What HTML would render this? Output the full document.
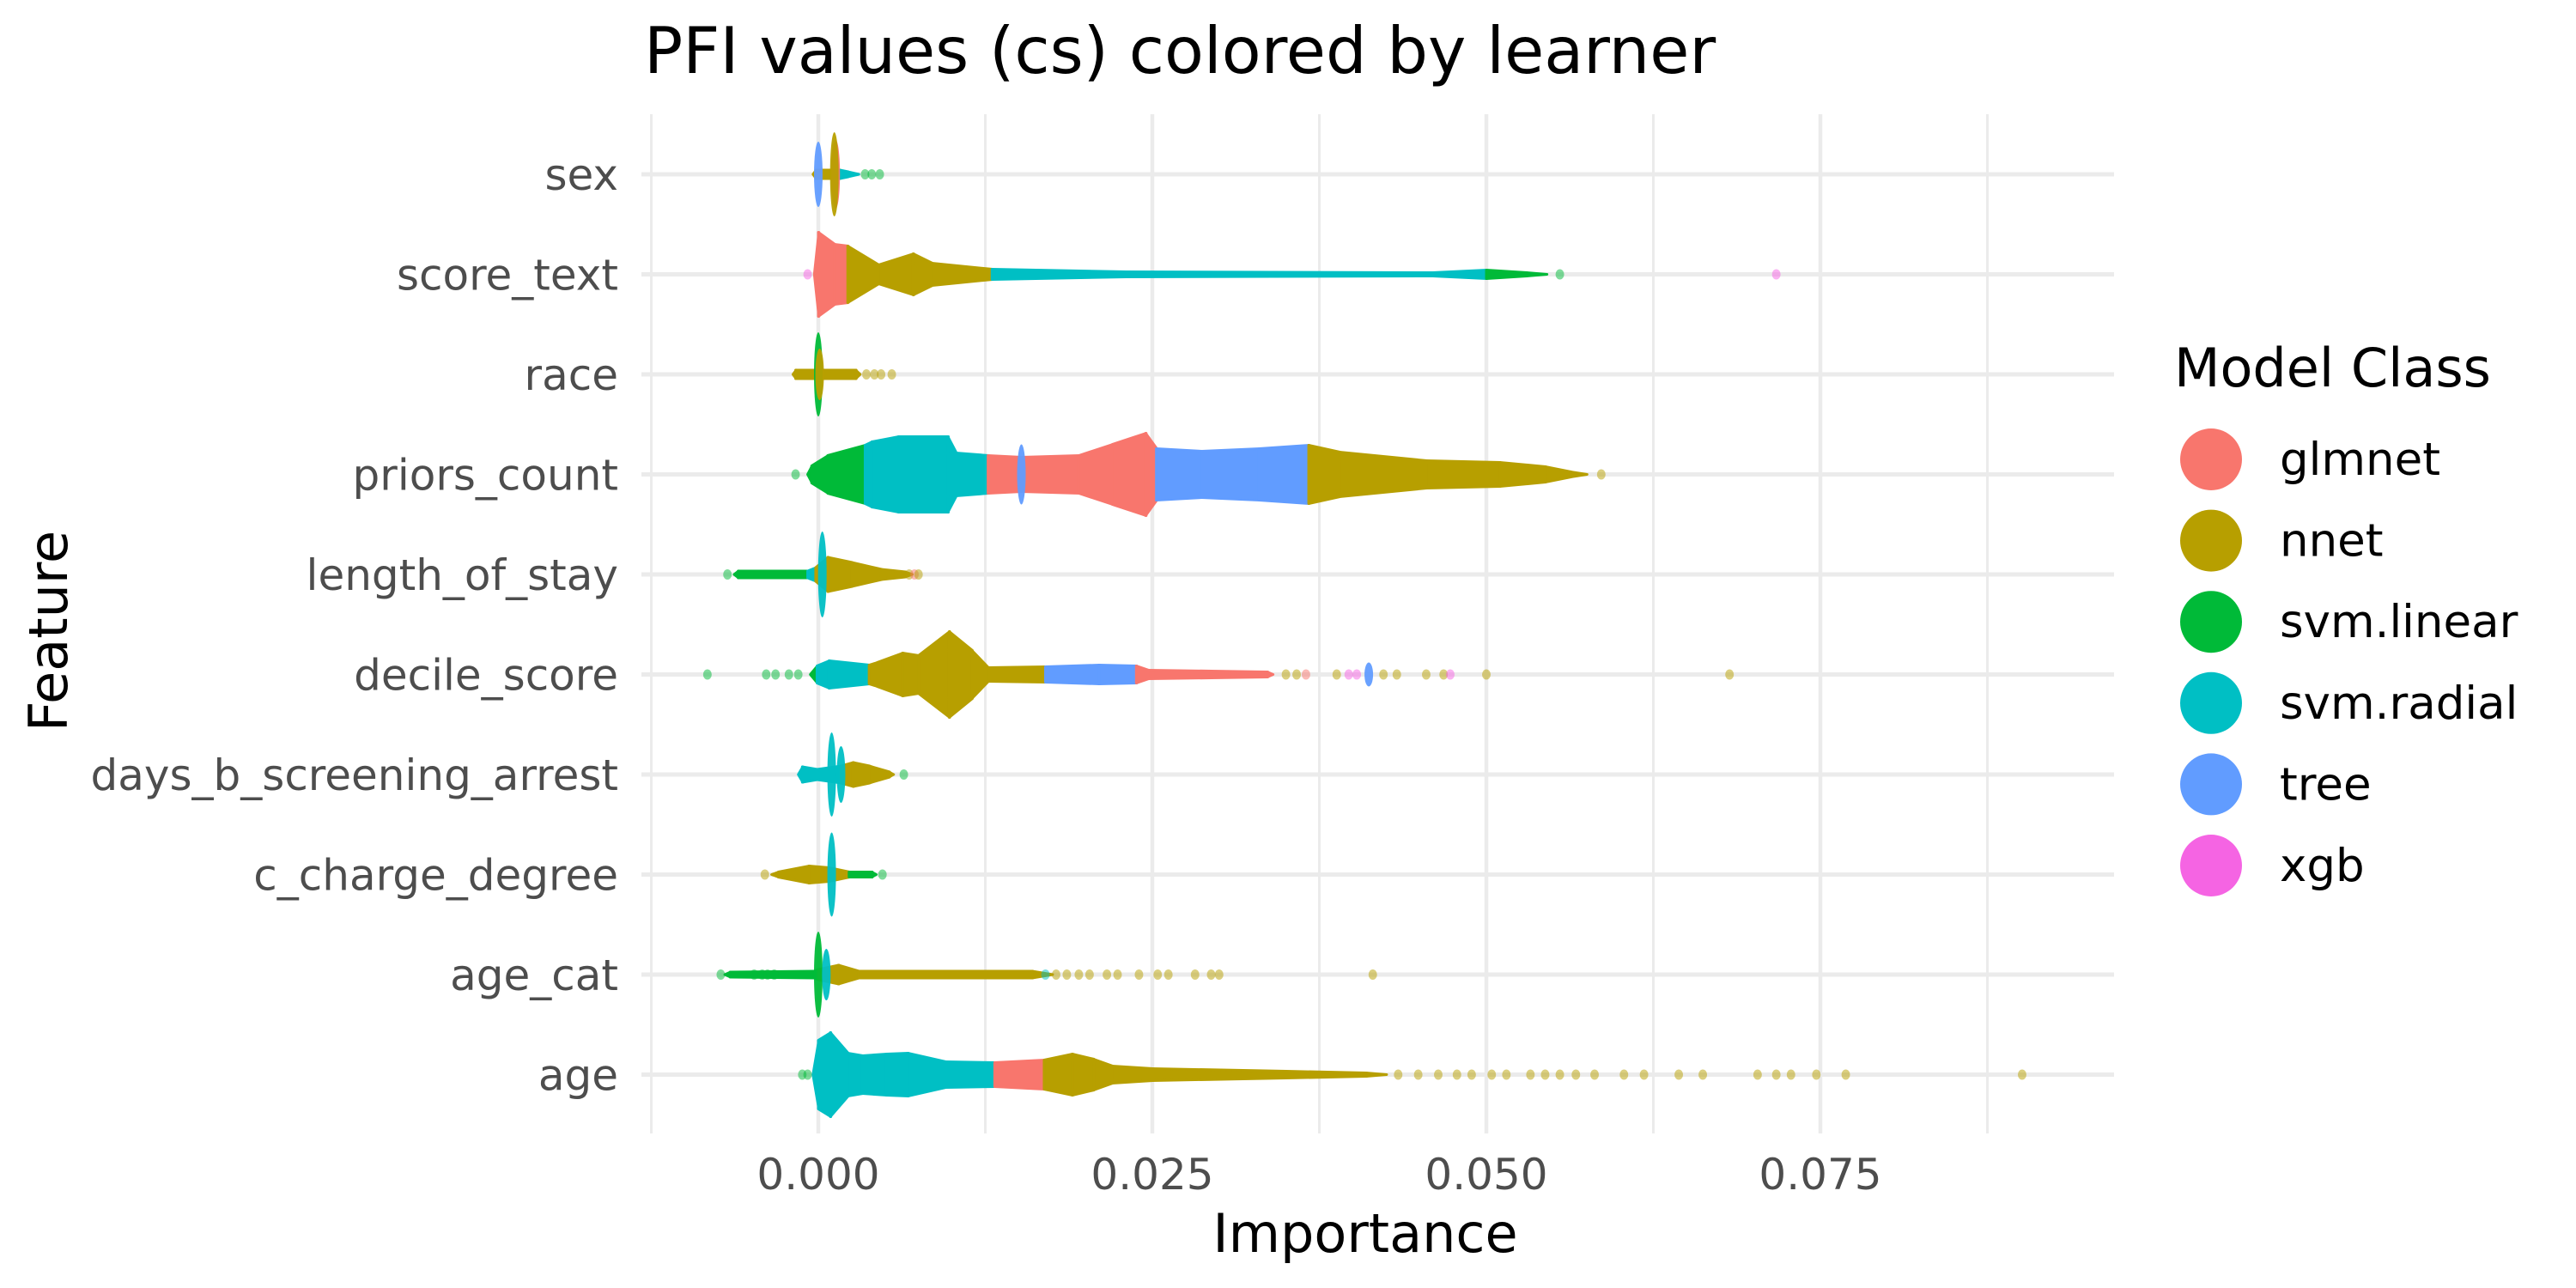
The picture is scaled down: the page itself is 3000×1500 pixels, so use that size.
<!DOCTYPE html>
<html><head><meta charset="utf-8">
<style>
html,body{margin:0;padding:0;background:#fff;}
svg{display:block;font-family:"DejaVu Sans","Liberation Sans",sans-serif;}
</style></head>
<body>
<svg id="chart" width="3000" height="1500" viewBox="0 0 3000 1500" xmlns="http://www.w3.org/2000/svg">
<text x="750" y="85" font-size="75" fill="#000">PFI values (cs) colored by learner</text>
<g id="grid"></g>
<g id="marks"></g>
<g id="yaxis"></g>
<g id="xaxis"></g>
<text x="1590" y="1458" font-size="62" text-anchor="middle" fill="#000">Importance</text>
<text transform="translate(78,735) rotate(-90)" font-size="62" text-anchor="middle" fill="#000">Feature</text>
<g id="legend">
<text x="2532" y="450" font-size="62" fill="#000">Model Class</text>
</g>
</svg>
<script>
const classNames = ["glmnet","nnet","svm.linear","svm.radial","tree","xgb"];
const classColors = ["#F8766D","#B79F00","#00BA38","#00BFC4","#619CFF","#F564E3"];
const features = ["sex","score_text","race","priors_count","length_of_stay","decile_score","days_b_screening_arrest","c_charge_degree","age_cat","age"];
const xTicks = [0, 0.025, 0.05, 0.075];
const xTickLabels = ["0.000","0.025","0.050","0.075"];
const xMinor = [-0.0125, 0.0125, 0.0375, 0.0625, 0.0875];

const sexVals = [-0.0004,-0.0002,0.0016,0.0022,0.0030];
const sexH = [0,5,5,3,0];
const sexSeg = [1,1,3,3];
const sexSpikeVals = [0.0000,0.0013,0.0012];
const sexSpikeH = [38,40,49];
const sexSpikeCls = [4,0,1];
const sexDotVals = [0.0035,0.0040,0.0046];
const sexDotCls = [2,2,2];

const scoreVals = [-0.0003,0,0.0012,0.0022,0.0045,0.0071,0.0085,0.013,0.023,0.046,0.050,0.053,0.0545];
const scoreH = [0,49,35,33,11,24,13,6,3,2,5,2,0];
const scoreSeg = [0,0,0,1,1,1,1,3,3,3,2,2];
const scoreSpikeVals = [];
const scoreSpikeH = [];
const scoreSpikeCls = [];
const scoreDotVals = [-0.0008,0.0555,0.0717];
const scoreDotCls = [5,2,5];

const raceVals = [-0.0019,-0.0017,0.0028,0.0031];
const raceH = [0,5,5,0];
const raceSeg = [1,1,1];
const raceSpikeVals = [0.0000,0.0001];
const raceSpikeH = [49,30];
const raceSpikeCls = [2,1];
const raceDotVals = [0.0036,0.0042,0.0047,0.0055];
const raceDotCls = [1,1,1,1];

const priorsVals = [-0.0008,-0.0005,0.0007,0.0035,0.0040,0.0060,0.0097,0.0103,0.0127,0.0152,0.0195,0.022,0.0245,0.0253,0.0287,0.033,0.0367,0.039,0.0455,0.051,0.0544,0.0563,0.0575];
const priorsH = [0,10,22,34,38,44,44,25,22,20,22,35,48,30,27,30,34,26,16,14,9,3,0];
const priorsSeg = [2,2,2,3,3,3,3,3,0,0,0,0,0,4,4,4,1,1,1,1,1,1];
const priorsSpikeVals = [0.0152];
const priorsSpikeH = [35];
const priorsSpikeCls = [4];
const priorsDotVals = [-0.0017,0.0586];
const priorsDotCls = [2,1];

const losVals = [-0.0063,-0.006,-0.0008,-0.0002,0.0007,0.0025,0.0047,0.0065,0.007];
const losH = [0,4,4,8,20,14,6,3,0];
const losSeg = [2,2,3,1,1,1,1,1];
const losSpikeVals = [0.0003];
const losSpikeH = [50];
const losSpikeCls = [3];
const losDotVals = [-0.0068,0.0068,0.0072,0.0075];
const losDotCls = [2,1,0,1];

const decileVals = [-0.0006,-0.0001,0.0008,0.0038,0.0044,0.0063,0.0075,0.0098,0.0115,0.0127,0.017,0.021,0.0238,0.0247,0.0294,0.0336,0.034];
const decileH = [0,10,16,11,14,25,22,50,28,8,9,11,10,5,4,3,0];
const decileSeg = [2,3,3,1,1,1,1,1,1,1,4,4,0,0,0,0];
const decileSpikeVals = [0.0412];
const decileSpikeH = [14];
const decileSpikeCls = [4];
const decileDotVals = [-0.0083,-0.0039,-0.0032,-0.0022,-0.0015,0.0350,0.0358,0.0365,0.0388,0.0397,0.0403,0.0423,0.0433,0.0455,0.0468,0.0473,0.0500,0.0682];
const decileDotCls = [2,2,2,2,2,1,1,0,1,5,5,1,1,1,1,5,1,1];

const daysVals = [-0.0015,-0.0012,-0.0001,0.0017,0.0026,0.0038,0.0053,0.0056];
const daysH = [0,9,6,10,14,10,3,0];
const daysSeg = [3,3,3,1,1,1,1];
const daysSpikeVals = [0.0010,0.0017];
const daysSpikeH = [49,33];
const daysSpikeCls = [3,3];
const daysDotVals = [0.0064];
const daysDotCls = [2];

const chargeVals = [-0.0035,-0.0030,-0.0007,0.0008,0.0023,0.0040,0.0043];
const chargeH = [0,3,10,8,3,3,0];
const chargeSeg = [1,1,1,1,2,2];
const chargeSpikeVals = [0.0010];
const chargeSpikeH = [49];
const chargeSpikeCls = [3];
const chargeDotVals = [-0.0040,0.0048];
const chargeDotCls = [1,2];

const agecatVals = [-0.0070,-0.0066,-0.0003,0.0000,0.0015,0.0030,0.016,0.0175];
const agecatH = [0,3,4,6,11,4,4,0];
const agecatSeg = [2,2,2,1,1,1,1];
const agecatSpikeVals = [0.0000,0.0006];
const agecatSpikeH = [50,30];
const agecatSpikeCls = [2,3];
const agecatDotVals = [-0.0073,-0.0048,-0.0042,-0.0038,-0.0033,0.0170,0.0178,0.0186,0.0195,0.0203,0.0216,0.0224,0.0240,0.0254,0.0262,0.0282,0.0294,0.0300,0.0415];
const agecatDotCls = [2,2,2,2,2,3,1,1,1,1,1,1,1,1,1,1,1,1,1];

const ageVals = [-0.0004,0,0.0009,0.0022,0.0033,0.0051,0.0067,0.0095,0.0132,0.0169,0.019,0.0206,0.022,0.025,0.035,0.041,0.0425];
const ageH = [0,40,49,25,22,24,25,15,14,17,24,18,10,7,4,2,0];
const ageSeg = [3,3,3,3,3,3,3,3,0,1,1,1,1,1,1,1];
const ageSpikeVals = [];
const ageSpikeH = [];
const ageSpikeCls = [];
const ageDotVals = [-0.0012,-0.0008,0.0434,0.0449,0.0464,0.0478,0.0489,0.0504,0.0515,0.0533,0.0544,0.0555,0.0567,0.0581,0.0603,0.0618,0.0644,0.0662,0.0703,0.0717,0.0728,0.0747,0.0769,0.0901];
const ageDotCls = [2,2,1,1,1,1,1,1,1,1,1,1,1,1,1,1,1,1,1,1,1,1,1,1];

const profiles = [
 [sexVals,sexH,sexSeg,sexSpikeVals,sexSpikeH,sexSpikeCls,sexDotVals,sexDotCls],
 [scoreVals,scoreH,scoreSeg,scoreSpikeVals,scoreSpikeH,scoreSpikeCls,scoreDotVals,scoreDotCls],
 [raceVals,raceH,raceSeg,raceSpikeVals,raceSpikeH,raceSpikeCls,raceDotVals,raceDotCls],
 [priorsVals,priorsH,priorsSeg,priorsSpikeVals,priorsSpikeH,priorsSpikeCls,priorsDotVals,priorsDotCls],
 [losVals,losH,losSeg,losSpikeVals,losSpikeH,losSpikeCls,losDotVals,losDotCls],
 [decileVals,decileH,decileSeg,decileSpikeVals,decileSpikeH,decileSpikeCls,decileDotVals,decileDotCls],
 [daysVals,daysH,daysSeg,daysSpikeVals,daysSpikeH,daysSpikeCls,daysDotVals,daysDotCls],
 [chargeVals,chargeH,chargeSeg,chargeSpikeVals,chargeSpikeH,chargeSpikeCls,chargeDotVals,chargeDotCls],
 [agecatVals,agecatH,agecatSeg,agecatSpikeVals,agecatSpikeH,agecatSpikeCls,agecatDotVals,agecatDotCls],
 [ageVals,ageH,ageSeg,ageSpikeVals,ageSpikeH,ageSpikeCls,ageDotVals,ageDotCls]
];

const NS = "http://www.w3.org/2000/svg";
const panelL = 747, panelR = 2462, panelT = 133, panelB = 1320;
const x0 = 953, pxPerUnit = 15560;
function xScale(v){ return x0 + v * pxPerUnit; }
function yScale(i){ return 203 + i * 116.5; }
function mk(tag, attrs, parent){
  const e = document.createElementNS(NS, tag);
  for (const k in attrs) e.setAttribute(k, attrs[k]);
  parent.appendChild(e);
  return e;
}
const grid = document.getElementById("grid");
const marks = document.getElementById("marks");
const yaxis = document.getElementById("yaxis");
const xaxis = document.getElementById("xaxis");
const legend = document.getElementById("legend");

xMinor.forEach(v => {
  const l = mk("line", {x1:xScale(v), x2:xScale(v), y1:panelT, y2:panelB, stroke:"#ebebeb", "stroke-width":3}, grid);
  
  
});
xTicks.forEach((v, i) => {
  const l = mk("line", {x1:xScale(v), x2:xScale(v), y1:panelT, y2:panelB, stroke:"#ebebeb", "stroke-width":4.5}, grid);
  
  
  const t = mk("text", {x:xScale(v), y:1385, "font-size":50, fill:"#4d4d4d", "text-anchor":"middle"}, xaxis);
  t.textContent = xTickLabels[i];
  
  
});
features.forEach((f, i) => {
  const l = mk("line", {x1:panelL, x2:panelR, y1:yScale(i), y2:yScale(i), stroke:"#ebebeb", "stroke-width":5}, grid);
  
  
  const t = mk("text", {x:720, y:yScale(i)+18, "font-size":50, fill:"#4d4d4d", "text-anchor":"end"}, yaxis);
  t.textContent = f;
  
  
});

profiles.forEach((p, i) => {
  const [vals, hs, seg, sv, sh, sc, dv, dc] = p;
  const cy = yScale(i);
  const g = mk("g", {}, marks);
  
  
  for (let k = 0; k < vals.length - 1; k++) {
    const xa = xScale(vals[k]), xb = xScale(vals[k+1]) + 0.6;
    const pts = [[xa, cy - hs[k]], [xb, cy - hs[k+1]], [xb, cy + hs[k+1]], [xa, cy + hs[k]]].map(q => q.join(",")).join(" ");
    const poly = mk("polygon", {points:pts, fill:classColors[seg[k]], stroke:classColors[seg[k]], "stroke-width":3, "stroke-linejoin":"round"}, g);
    
    
  }
  for (let k = 0; k < sv.length; k++) {
    const e = mk("ellipse", {cx:xScale(sv[k]), cy:cy, rx:5, ry:sh[k], fill:classColors[sc[k]], "fill-opacity":0.95}, g);
    
    
  }
  for (let k = 0; k < dv.length; k++) {
    const c = mk("ellipse", {cx:xScale(dv[k]), cy:cy, rx:5, ry:6, fill:classColors[dc[k]], "fill-opacity":0.5}, g);
    
    
  }
});

classNames.forEach((n, i) => {
  const cy = 535 + i * 94.6;
  const c = mk("circle", {cx:2575, cy:cy, r:36, fill:classColors[i]}, legend);
  
  
  const t = mk("text", {x:2655, y:cy+18, "font-size":53, fill:"#000"}, legend);
  t.textContent = n;
  
  
});
</script>
</body></html>
